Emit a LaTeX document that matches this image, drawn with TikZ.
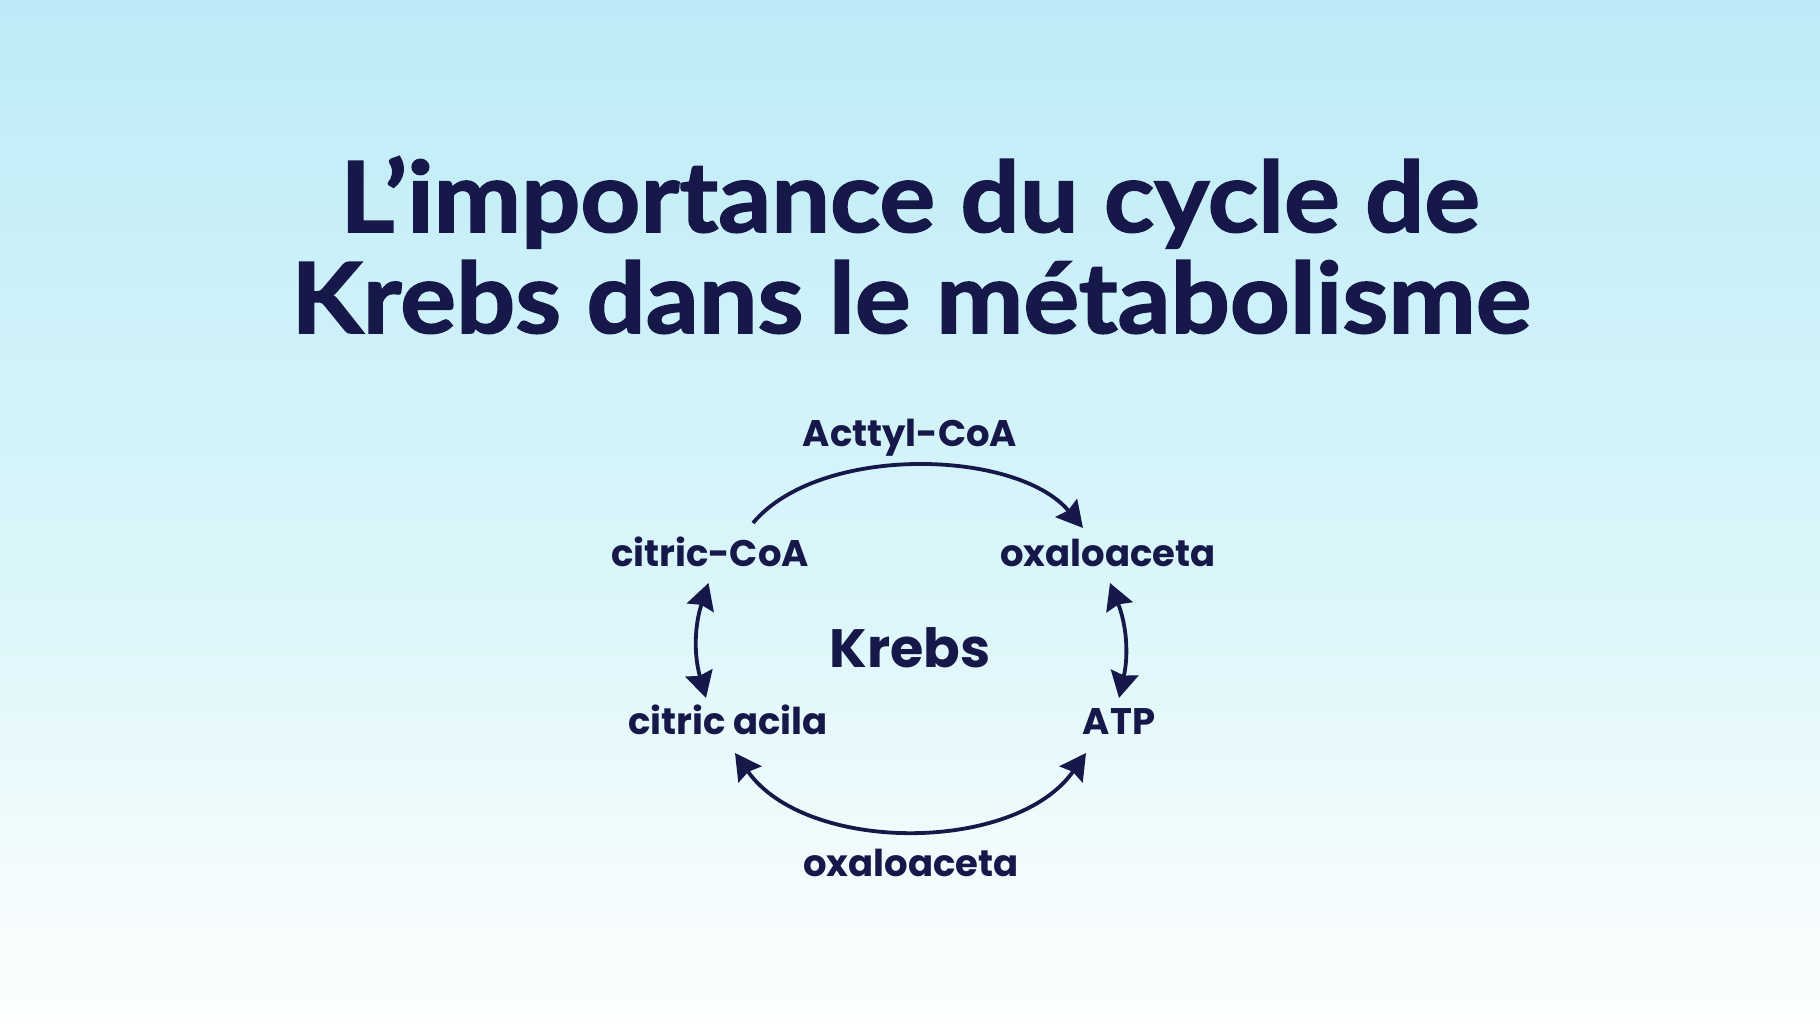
\documentclass[tikz,border=0pt]{standalone}
\usepackage{fontspec}
\setmainfont{Poppins}
\newfontfamily\titlefont{Lato}[BoldFeatures={FakeBold=1.6}]
\usetikzlibrary{arrows.meta, positioning, calc}

\definecolor{krebsnavy}{RGB}{21,24,72}
\definecolor{bgtop}{RGB}{188,235,247}
\definecolor{bgupper}{RGB}{205,241,249}
\definecolor{bgmid}{RGB}{220,246,250}
\definecolor{bglow}{RGB}{245,252,253}
\definecolor{bgbot}{RGB}{252,254,254}
\pgfdeclareverticalshading{krebsbg}{100bp}{color(0bp)=(bgbot); color(25bp)=(bgbot); color(31bp)=(bglow); color(45.5bp)=(bgmid); color(60bp)=(bgupper); color(75bp)=(bgtop); color(100bp)=(bgtop)}

\tikzset{
  titletext/.style = {anchor=base, inner sep=0pt, xscale=1.065, text=krebsnavy, font=\fontsize{98}{110}\titlefont\bfseries},
  steptext/.style = {anchor=base, inner sep=0pt, text=krebsnavy, font=\fontsize{37}{40}\selectfont\bfseries},
  centretext/.style = {anchor=base, inner sep=0pt, text=krebsnavy, font=\fontsize{54}{60}\selectfont\bfseries},
  krebsarrow/.style = {draw=krebsnavy, line width=3.8pt}
}

\begin{document}
\begin{tikzpicture} [x=1pt, y=1pt, >={Stealth[length=26pt, width=28pt, inset=3pt]}]

\shade [shading=krebsbg] (0,0) rectangle (1820,1024);
\useasboundingbox (0,0) rectangle (1820,1024);

% title
\node [titletext] (title1) at (910,792) {L’importance du cycle de};
\node [titletext] (title2) at (911,691) {Krebs dans le métabolisme};

% cycle
\node [steptext] (acetyl) at (910,577) {Acttyl-CoA};
\node [steptext] (citcoa) at (710,457) {citric-CoA};
\node [steptext] (oxaltop) at (1108,457) {oxaloaceta};
\node [centretext] (krebs) at (910,356) {Krebs};
\node [steptext] (citacila) at (728,289) {citric acila};
\node [steptext] (atp) at (1119,289) {ATP};
\node [steptext] (oxalbot) at (911,147) {oxaloaceta};

\draw [krebsarrow, ->] ($(citcoa.base)+(43,44)$) to [out=50, in=130, looseness=0.8] ($(oxaltop.base)+(-25,39)$);
\draw [krebsarrow, <->] ($(citcoa.base)+(-1.5,-16)$) to [bend right=17] ($(citacila.base)+(-22,37)$);
\draw [krebsarrow, <->] ($(oxaltop.base)+(2,-16)$) to [bend left=17] ($(atp.base)+(0,37)$);
\draw [krebsarrow, <->] ($(citacila.base)+(7,-18)$) to [out=-55, in=-125, looseness=0.9] ($(atp.base)+(-33,-18)$);

\end{tikzpicture}
\end{document}
